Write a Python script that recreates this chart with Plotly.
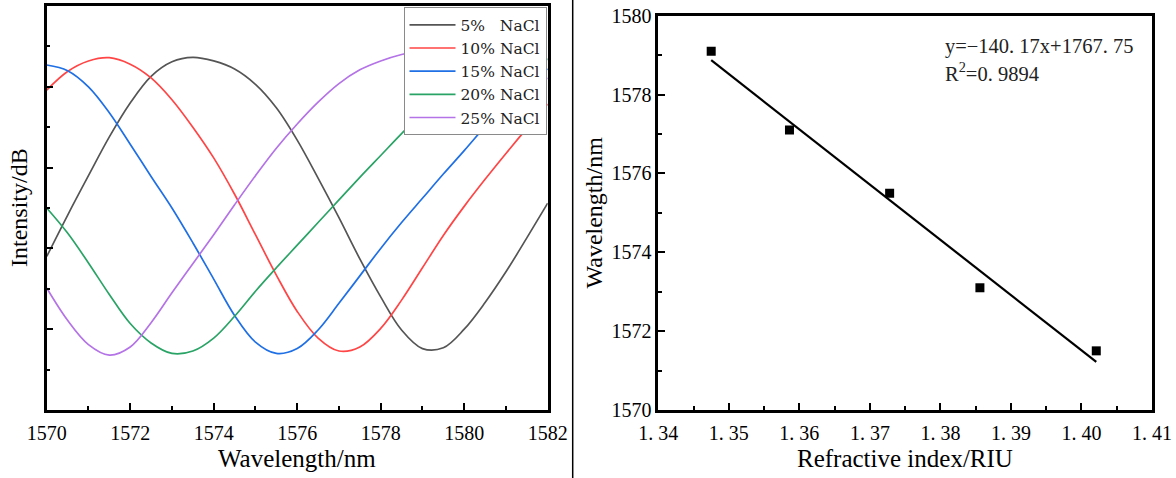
import plotly.graph_objects as go

# ---------------- transmission spectra (left panel) ----------------
wavelength = [1570.0, 1570.5, 1571.0, 1571.5, 1572.0, 1572.5, 1573.0, 1573.5, 1574.0,
              1574.5, 1575.0, 1575.5, 1576.0, 1576.5, 1577.0, 1577.5, 1578.0, 1578.5,
              1579.0, 1579.5, 1580.0, 1580.5, 1581.0, 1581.5, 1582.0]

db_5 = [-31.0, -25.9, -21.0, -16.2, -12.0, -8.7, -6.9, -6.35, -6.8,
        -7.8, -9.7, -12.6, -16.6, -21.3, -26.2, -31.3, -36.0, -40.1,
        -42.4, -42.3, -40.0, -36.7, -32.9, -28.7, -24.4]

db_10 = [-10.4, -8.1, -6.8, -6.4, -7.2, -8.9, -11.6, -15.0, -18.8,
         -23.3, -28.3, -33.3, -37.8, -41.1, -42.7, -42.2, -39.9, -36.4,
         -32.4, -28.4, -24.8, -21.45, -18.25, -15.15, -12.15]

db_15 = [-7.3, -8.0, -10.0, -13.2, -17.1, -21.1, -25.0, -29.3, -33.8,
         -38.3, -41.6, -43.0, -42.4, -40.1, -36.8, -33.4, -30.0, -26.8,
         -23.8, -20.8, -17.9, -14.9, -12.0, -9.5, -7.8]

db_20 = [-25.0, -28.1, -31.8, -35.7, -39.3, -41.7, -43.0, -42.7, -41.1,
         -38.4, -35.3, -32.4, -29.6, -26.8, -24.0, -21.2, -18.5, -15.8,
         -13.2, -10.9, -9.0, -7.6, -6.8, -6.5, -6.6]

db_25 = [-34.9, -38.9, -41.9, -43.2, -42.2, -39.2, -35.5, -31.9, -28.3,
         -24.6, -21.0, -17.6, -14.6, -11.9, -9.6, -7.9, -6.8, -6.0,
         -5.5, -5.3, -5.5, -6.0, -6.8, -7.8, -9.0]

series_names = ["5%\u00a0\u00a0\u00a0NaCl", "10%\u00a0NaCl", "15%\u00a0NaCl", "20%\u00a0NaCl", "25%\u00a0NaCl"]
series_colors = ["#555555", "#ff4545", "#1f6fe5", "#2aa466", "#b473e6"]
spectra_db = [db_5, db_10, db_15, db_20, db_25]

# ---------------- dip wavelength vs refractive index (right panel) ----------------
refractive_index = [1.3475, 1.3586, 1.3728, 1.3856, 1.4021]
dip_wavelength = [1579.1, 1577.1, 1575.5, 1573.1, 1571.5]
fit_slope = -140.17
fit_intercept = 1767.75

ri_ticks = [1.34, 1.35, 1.36, 1.37, 1.38, 1.39, 1.40, 1.41]
ri_ticktext = ["1. 34", "1. 35", "1. 36", "1. 37", "1. 38", "1. 39", "1. 40", "1. 41"]

W, H = 1176, 478
FONT = "Liberation Serif"

fig = go.Figure()

for name, color, db in zip(series_names, series_colors, spectra_db):
    fig.add_trace(go.Scatter(
        x=wavelength, y=db, name=name, mode="lines",
        line=dict(color=color, width=1.7, shape="spline", smoothing=1.0),
        xaxis="x", yaxis="y",
    ))

fit_x = [refractive_index[0], refractive_index[-1]]
fit_y = [fit_slope * v + fit_intercept for v in fit_x]
fig.add_trace(go.Scatter(
    x=fit_x, y=fit_y, mode="lines", line=dict(color="black", width=2.2),
    showlegend=False, xaxis="x2", yaxis="y2",
))
fig.add_trace(go.Scatter(
    x=refractive_index, y=dip_wavelength, mode="markers",
    marker=dict(symbol="square", size=9, color="black"),
    showlegend=False, xaxis="x2", yaxis="y2",
))

axis_common = dict(
    showline=True, linecolor="black", linewidth=2.5, mirror=True,
    showgrid=False, zeroline=False, automargin=False,
    ticks="inside", ticklen=7, tickwidth=2, tickcolor="black",
    tickfont=dict(family=FONT, size=20, color="black"),
)
minor_common = dict(ticks="inside", ticklen=4, tickwidth=2, tickcolor="black")


def px_x(p):
    return p / W


def px_y(p):
    return (H - p) / H


def axis_title(text, x, y, angle=0, size=24):
    return dict(xref="paper", yref="paper", x=px_x(x), y=px_y(y),
                xanchor="center", yanchor="middle", textangle=angle,
                text=text, showarrow=False,
                font=dict(family=FONT, size=size, color="black"))


fig.update_layout(
    width=W, height=H,
    margin=dict(l=0, r=0, t=0, b=0, autoexpand=False),
    paper_bgcolor="white", plot_bgcolor="white",
    font=dict(family=FONT, color="black"),
    xaxis=dict(
        domain=[px_x(46.7), px_x(547.7)], anchor="y",
        range=[1570, 1582], tick0=1570, dtick=2,
        minor=dict(dtick=1, **minor_common),
        ticklabelstandoff=3,
        **axis_common,
    ),
    yaxis=dict(
        domain=[px_y(410), px_y(6)], anchor="x",
        range=[-50, 0], tick0=-50, dtick=10, showticklabels=False,
        minor=dict(dtick=5, **minor_common),
        **axis_common,
    ),
    xaxis2=dict(
        domain=[px_x(658.3), px_x(1152)], anchor="y2",
        range=[1.34, 1.41], tickvals=ri_ticks, ticktext=ri_ticktext,
        minor=dict(dtick=0.005, tick0=1.34, **minor_common),
        ticklabelstandoff=3,
        **axis_common,
    ),
    yaxis2=dict(
        domain=[px_y(410), px_y(15.7)], anchor="x2",
        range=[1570, 1580], tick0=1570, dtick=2,
        minor=dict(dtick=1, **minor_common),
        ticklabelstandoff=0,
        **axis_common,
    ),
    legend=dict(
        x=px_x(546.5), xanchor="right", y=px_y(7.3), yanchor="top",
        bgcolor="white", bordercolor="#8a8a8a", borderwidth=1,
        font=dict(family="DejaVu Serif", size=15.5, color="#222222"),
        tracegroupgap=0, itemwidth=46,
    ),
    shapes=[dict(
        type="line", xref="paper", yref="paper",
        x0=px_x(572.7), x1=px_x(572.7), y0=0, y1=1,
        line=dict(color="black", width=1.5),
    )],
    annotations=[
        axis_title("Wavelength/nm", 296.7, 458, size=25),
        axis_title("Intensity/dB", 19, 208, angle=-90),
        axis_title("Refractive index/RIU", 904.6, 458, size=25),
        axis_title("Wavelength/nm", 593, 212.5, angle=-90),
        dict(xref="paper", yref="paper", x=px_x(943), y=px_y(47), xanchor="left", yanchor="middle",
             text="y=\u2212140. 17x+1767. 75", showarrow=False,
             font=dict(family=FONT, size=20.5, color="#222222")),
        dict(xref="paper", yref="paper", x=px_x(943), y=px_y(72), xanchor="left", yanchor="middle",
             text="R<sup>2</sup>=0. 9894", showarrow=False,
             font=dict(family=FONT, size=20.5, color="#222222")),
    ],
)

fig.write_html("out.html", config=dict(displayModeBar=False))
